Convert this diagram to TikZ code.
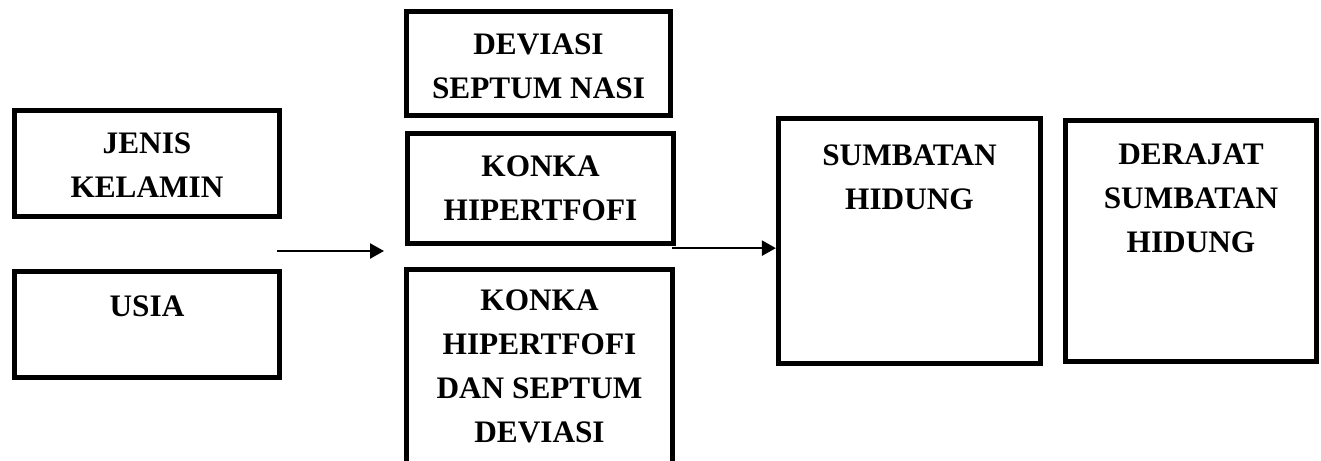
\documentclass[tikz,border=0pt]{standalone}
\usepackage{fontspec}
\setmainfont{Liberation Serif}
\usetikzlibrary{positioning,arrows.meta}

\begin{document}
\begin{tikzpicture}[
  x=1cm,
  y=1cm,
  box/.style={draw=black, line width=3pt, inner sep=0pt},
  boxtext/.style={align=center, inner sep=0pt, outer sep=0pt,
    font=\bfseries\fontsize{17.8}{25}\selectfont},
  >={Triangle[length=0.28cm, width=0.30cm]}
]
  \useasboundingbox (0,0) rectangle (26.42,-9.22);
  \clip (0,0) rectangle (26.42,-9.22);

  % ---- independent variables ------------------------------------------
  \node[box, minimum width=5.30cm, minimum height=2.12cm] (jenis) at (2.94,-3.27) {};
  \node[box, minimum width=5.30cm, minimum height=2.12cm] (usia) at (2.94,-6.49) {};

  \node[boxtext, below=0.50cm of jenis.north] (jenistext) {JENIS\\KELAMIN};
  \node[boxtext, below=0.54cm of usia.north] (usiatext) {USIA};

  % ---- causes in the middle column -------------------------------------
  \node[box, minimum width=5.28cm, minimum height=2.08cm] (deviasi) at (10.77,-1.27) {};
  \node[box, minimum width=5.32cm, minimum height=2.20cm] (konka) at (10.81,-3.77) {};
  \node[box, minimum width=5.32cm, minimum height=4.96cm] (konkadev) at (10.79,-7.87) {};

  \node[boxtext, below=0.50cm of deviasi.north] (deviasitext) {DEVIASI\\SEPTUM NASI};
  \node[boxtext, below=0.50cm of konka.north] (konkatext) {KONKA\\HIPERTFOFI};
  \node[boxtext, below=0.46cm of konkadev.north] (konkadevtext)
    {KONKA\\HIPERTFOFI\\DAN SEPTUM\\DEVIASI};

  % ---- outcome ---------------------------------------------------------
  \node[box, minimum width=5.24cm, minimum height=4.90cm] (sumbatan) at (18.19,-4.82) {};
  \node[box, minimum width=5.02cm, minimum height=4.82cm] (derajat) at (23.82,-4.82) {};

  \node[boxtext, below=0.58cm of sumbatan.north] (sumbatantext) {SUMBATAN\\HIDUNG};
  \node[boxtext, below=0.52cm of derajat.north] (derajattext)
    {DERAJAT\\SUMBATAN\\HIDUNG};

  % ---- arrows ----------------------------------------------------------
  \coordinate (from1) at (5.54,-5.02);
  \coordinate (to1) at (7.68,-5.02);
  \coordinate (from2) at ([shift={(-0.08,-0.04)}]konka.south east);

  \draw[line width=1.4pt, ->] (from1) -- (to1);
  \draw[line width=1.4pt, ->] (from2) -- (from2 -| sumbatan.west);
\end{tikzpicture}
\end{document}
